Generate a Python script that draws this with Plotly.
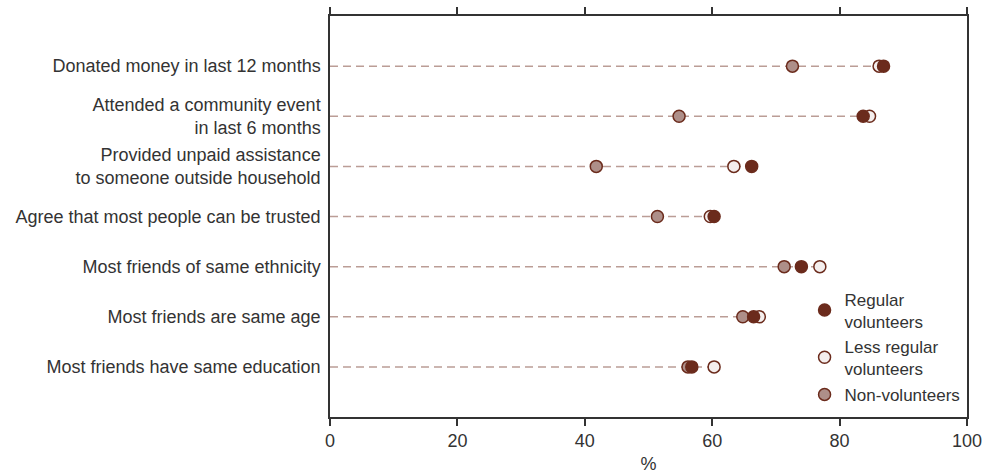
import plotly.graph_objects as go

categories = [
    "Donated money in last 12 months",
    "Attended a community event<br>in last 6 months",
    "Provided unpaid assistance<br>to someone outside household",
    "Agree that most people can be trusted",
    "Most friends of same ethnicity",
    "Most friends are same age",
    "Most friends have same education",
]
regular = [86.9, 83.7, 66.2, 60.3, 74.0, 66.5, 56.8]
less_regular = [86.2, 84.7, 63.4, 59.7, 76.9, 67.4, 60.3]
non_volunteers = [72.6, 54.8, 41.8, 51.4, 71.3, 64.8, 56.2]
x_ticks = [0, 20, 40, 60, 80, 100]

ypos = list(range(1, len(categories) + 1))
DARK = "#6b2b1c"
TXT = "#333333"

fig = go.Figure()

# dashed guide lines from 0 to the max of each row
lx, ly = [], []
for y, a, b, c in zip(ypos, regular, less_regular, non_volunteers):
    lx += [0, max(a, b, c), None]
    ly += [y, y, None]
fig.add_trace(go.Scatter(x=lx, y=ly, mode="lines", showlegend=False, hoverinfo="skip",
                         line=dict(color="#bb9d96", width=1.5, dash="8px,5px")))

fig.add_trace(go.Scatter(x=non_volunteers, y=ypos, mode="markers", name="Non-volunteers",
                         legendgroup="n", legendrank=3,
                         marker=dict(size=12, color="#ae8f89", line=dict(color=DARK, width=1.5))))
fig.add_trace(go.Scatter(x=less_regular, y=ypos, mode="markers", name="Less regular<br>volunteers",
                         legendgroup="v", legendrank=2,
                         marker=dict(size=12, color="#f4eeed", line=dict(color=DARK, width=1.5))))
fig.add_trace(go.Scatter(x=regular, y=ypos, mode="markers", name="Regular<br>volunteers",
                         legendgroup="v", legendrank=1,
                         marker=dict(size=12, color=DARK, line=dict(color=DARK, width=1.5))))

fig.update_layout(
    width=997, height=476,
    margin=dict(l=330, r=30, t=16, b=59),
    paper_bgcolor="white", plot_bgcolor="white",
    font=dict(family="Liberation Sans, Arial, sans-serif", color=TXT, size=18),
    legend=dict(x=0.745, y=0.338, xanchor="left", yanchor="top", traceorder="grouped",
                bgcolor="rgba(0,0,0,0)", font=dict(size=17, color=TXT),
                itemwidth=30, tracegroupgap=1),
    xaxis=dict(range=[0, 100], tickvals=x_ticks, ticks="outside", ticklen=7,
               tickcolor=TXT, tickwidth=1.5, showline=True, linecolor=TXT, linewidth=1.5,
               mirror="allticks", showgrid=False, zeroline=False, automargin=False,
               tickfont=dict(size=18),
               title=dict(text="%", standoff=7, font=dict(size=18))),
    yaxis=dict(range=[len(categories) + 1, 0], tickvals=ypos, ticktext=categories,
               ticks="", showline=True, linecolor=TXT, linewidth=1.5, mirror=True,
               showgrid=False, zeroline=False, ticklabelstandoff=4, automargin=False),
)

fig.write_html("out.html", config={"displayModeBar": False},
               post_script="document.body.style.margin='0';document.body.style.overflow='hidden';")
